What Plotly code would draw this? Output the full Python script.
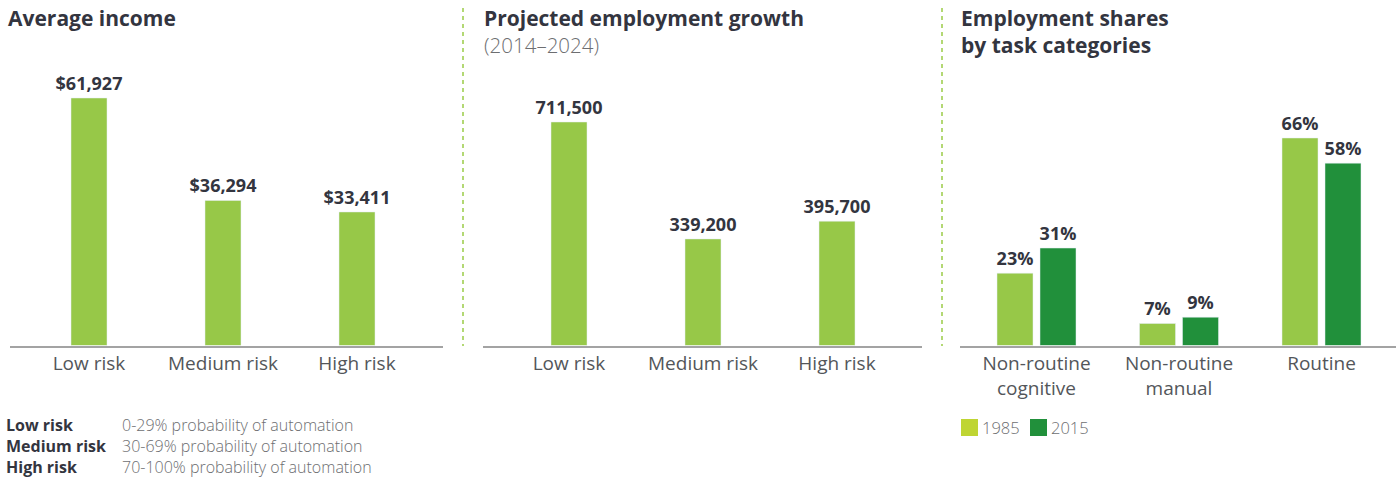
import plotly.graph_objects as go

# ---- data ----
risk_levels = ["Low risk", "Medium risk", "High risk"]
avg_income = [61927, 36294, 33411]
employment_growth = [711500, 339200, 395700]

task_categories = ["Non-routine<br>cognitive", "Non-routine<br>manual", "Routine"]
share_1985 = [23, 7, 66]
share_2015 = [31, 9, 58]

risk_keys = ["Low risk", "Medium risk", "High risk"]
risk_desc = ["0-29% probability of automation",
             "30-69% probability of automation",
             "70-100% probability of automation"]

# ---- styling ----
W, H = 1400, 477
LIGHT = "#97c848"
DARK = "#21903b"
LEG_LIGHT = "#bfd533"
TXT = "#33353f"
TICK = "#53565a"
GREY = "#6d6e71"
FONT = "Open Sans, Noto Sans, sans-serif"

def px(x):
    return x / W

def py(y):
    return 1 - y / H

ydom = [py(345.5), py(30)]
pos = list(range(3))
label_font = dict(family=FONT, size=18, color=TXT, weight="bold")

fig = go.Figure()

fig.add_trace(go.Bar(
    x=pos, y=avg_income, width=36 / 134, marker_color=LIGHT,
    texttemplate="$%{y:,}", textposition="outside", cliponaxis=False,
    constraintext="none", textfont=label_font,
    xaxis="x", yaxis="y", showlegend=False, hoverinfo="skip"))

fig.add_trace(go.Bar(
    x=pos, y=employment_growth, width=36 / 134, marker_color=LIGHT,
    texttemplate="%{y:,}", textposition="outside", cliponaxis=False,
    constraintext="none", textfont=label_font,
    xaxis="x2", yaxis="y2", showlegend=False, hoverinfo="skip"))

bw3 = 36 / 142.5
fig.add_trace(go.Bar(
    x=pos, y=share_1985, width=bw3, offset=-39.5 / 142.5, marker_color=LIGHT,
    texttemplate="%{y}%", textposition="outside", cliponaxis=False,
    constraintext="none", name="1985", textfont=label_font,
    xaxis="x3", yaxis="y3", showlegend=False, hoverinfo="skip"))
fig.add_trace(go.Bar(
    x=pos, y=share_2015, width=bw3, offset=3.5 / 142.5, marker_color=DARK,
    texttemplate="%{y}%", textposition="outside", cliponaxis=False,
    constraintext="none", name="2015", textfont=label_font,
    xaxis="x3", yaxis="y3", showlegend=False, hoverinfo="skip"))

def xax(dom, rng, labels):
    return dict(domain=[px(dom[0]), px(dom[1])], range=rng,
                tickvals=pos, ticktext=labels, showgrid=False, zeroline=False,
                showline=True, linecolor="#a3a3a3", linewidth=1.5,
                ticks="", ticklabelstandoff=0,
                tickfont=dict(family=FONT, size=19, color=TICK), fixedrange=True)

def yax(rng, anchor):
    return dict(domain=ydom, range=rng, visible=False, anchor=anchor, fixedrange=True)

fig.update_layout(
    width=W, height=H, margin=dict(l=0, r=0, t=0, b=0),
    paper_bgcolor="white", plot_bgcolor="white",
    barmode="overlay", font=dict(family=FONT),
    xaxis=dict(xax((10, 443), [(10 - 89) / 134, (443 - 89) / 134], risk_levels), anchor="y"),
    yaxis=yax([0, 315.5 / (247.5 / 61927)], "x"),
    xaxis2=dict(xax((483, 922), [(483 - 569) / 134, (922 - 569) / 134], risk_levels), anchor="y2"),
    yaxis2=yax([0, 315.5 / (223.5 / 711500)], "x2"),
    xaxis3=dict(xax((960, 1396), [(960 - 1036.5) / 142.5, (1396 - 1036.5) / 142.5], task_categories), anchor="y3"),
    yaxis3=yax([0, 315.5 / (207.5 / 66)], "x3"),
)

ann = []

def text(x, y, s, size, color, weight="normal", anchor="left", align="left"):
    ann.append(dict(x=px(x), y=py(y), xref="paper", yref="paper", text=s,
                    showarrow=False, xanchor=anchor, yanchor="middle", align=align,
                    font=dict(family=FONT, size=size, color=color, weight=weight)))

# panel titles
text(6, 18, "Average income", 21, TXT, weight="bold")
text(482, 18, "Projected employment growth", 21, TXT, weight="bold")
text(482, 45, "(2014–2024)", 20.5, GREY, weight=300)
text(959, 18, "Employment shares", 21, TXT, weight="bold")
text(959, 45, "by task categories", 21, TXT, weight="bold")

# risk key: one block for the names, one for the descriptions
text(4, 445.5, "<br>".join(risk_keys), 16, TXT, weight="bold")
text(120, 445.5, "<br>".join(risk_desc), 16, GREY, weight=300)

# year key
shapes = []
for x0, col, lab in [(961, LEG_LIGHT, "1985"), (1030, DARK, "2015")]:
    shapes.append(dict(type="rect", xref="paper", yref="paper",
                       x0=px(x0), x1=px(x0 + 17), y0=py(436), y1=py(419),
                       fillcolor=col, line=dict(width=0)))
    text(x0 + 19, 427.5, lab, 16.5, GREY, weight=300)

# dashed dividers between panels
for xs in (463, 942):
    shapes.append(dict(type="line", xref="paper", yref="paper",
                       x0=px(xs), x1=px(xs), y0=py(8), y1=py(346),
                       line=dict(color="#9acb47", width=1.5, dash="4px,4px")))

fig.update_layout(annotations=ann, shapes=shapes)

fig.write_html("out.html", config={"displayModeBar": False})
